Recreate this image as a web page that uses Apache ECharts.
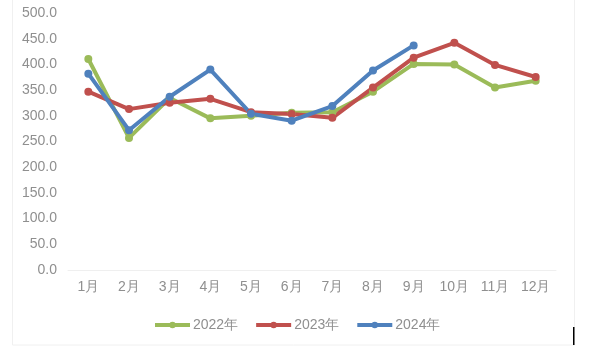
<!DOCTYPE html>
<html>
<head>
<meta charset="utf-8">
<script src="https://cdn.jsdelivr.net/npm/echarts@6/dist/echarts.min.js"></script>
<style>
  html, body { margin: 0; padding: 0; background: #fff; }
  #chart { width: 605px; height: 350px; }
</style>
</head>
<body>
<div id="chart"></div>
<script>
// Monthly values for three years
const months = ['1月', '2月', '3月', '4月', '5月', '6月', '7月', '8月', '9月', '10月', '11月', '12月'];
const seriesNames = ['2022年', '2023年', '2024年'];
const values2022 = [410.5, 257.0, 334.5, 295.0, 300.0, 306.0, 307.0, 347.0, 401.0, 400.0, 355.0, 368.0];
const values2023 = [347.0, 313.0, 325.5, 333.0, 307.0, 303.5, 296.0, 355.0, 413.0, 442.0, 399.0, 375.5];
const values2024 = [382.0, 272.0, 337.0, 390.0, 304.0, 290.5, 319.0, 388.0, 437.0];
const colors = ['#9BBB59', '#C0504D', '#4F81BD'];

const chart = echarts.init(document.getElementById('chart'));
const fontFamily = '"Liberation Sans", Arial, sans-serif';
const labelColor = '#8f8f8f';

function lineSeries(name, data, color) {
  return {
    name: name,
    type: 'line',
    data: data,
    symbol: 'circle',
    symbolSize: 8,
    lineStyle: { width: 4, color: color },
    itemStyle: { color: color },
    emphasis: { disabled: true },
    animation: false
  };
}

chart.setOption({
  animation: false,
  textStyle: { fontFamily: fontFamily },
  grid: { left: 68, right: 49, top: 13, bottom: 80, containLabel: false },
  xAxis: {
    type: 'category',
    data: months,
    boundaryGap: true,
    axisLine: { show: true, lineStyle: { color: '#efefef', width: 1 } },
    axisTick: { show: false },
    axisLabel: { color: labelColor, fontSize: 14, margin: 10, fontFamily: fontFamily },
    splitLine: { show: false }
  },
  yAxis: {
    type: 'value',
    min: 0,
    max: 500,
    interval: 50,
    axisLine: { show: false },
    axisTick: { show: false },
    splitLine: { show: false },
    axisLabel: {
      color: labelColor,
      fontSize: 14,
      margin: 11,
      fontFamily: fontFamily,
      formatter: v => v.toFixed(1)
    }
  },
  legend: {
    data: seriesNames,
    top: 313,
    left: 148,
    itemWidth: 35,
    itemHeight: 8,
    itemGap: 16,
    lineStyle: { width: 4 },
    itemStyle: { borderWidth: 0 },
    textStyle: { color: labelColor, fontSize: 14, fontFamily: fontFamily, padding: [0, 0, 0, -2] }
  },
  graphic: [
    {
      type: 'rect',
      shape: { x: 12.5, y: -2, width: 562, height: 347 },
      style: { fill: 'none', stroke: '#f0f0f0', lineWidth: 1 },
      silent: true
    },
    {
      type: 'rect',
      shape: { x: 573, y: 327, width: 1.5, height: 18 },
      style: { fill: '#000' },
      silent: true
    }
  ],
  series: [
    lineSeries(seriesNames[0], values2022, colors[0]),
    lineSeries(seriesNames[1], values2023, colors[1]),
    lineSeries(seriesNames[2], values2024, colors[2])
  ]
});
</script>
</body>
</html>
